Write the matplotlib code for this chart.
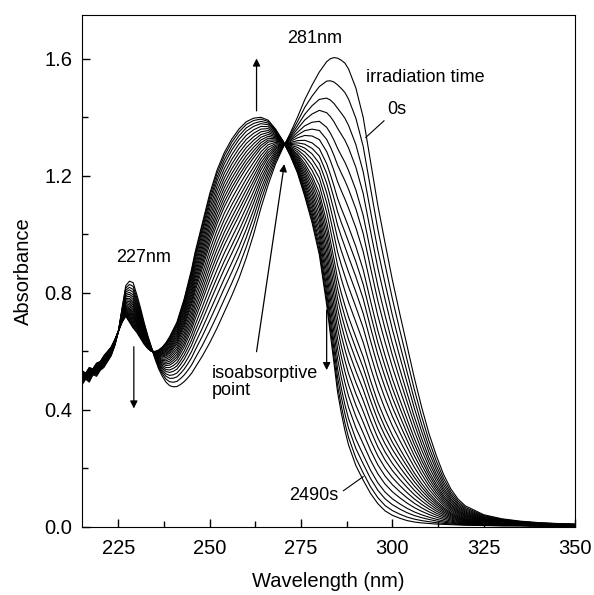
import numpy as np
import matplotlib
matplotlib.use("Agg")
import matplotlib.pyplot as plt

plt.rcParams['font.family'] = ['Liberation Sans', 'DejaVu Sans']

# wavelength grid (nm)
wl = [215, 216, 217, 218, 219, 220, 221, 222, 223, 224, 225, 226, 227, 228, 229,
      230, 231, 232, 233, 234, 235, 236, 237, 238, 239, 240, 241, 242, 243, 244,
      245, 246, 248, 250, 252, 254, 256, 258, 260, 262, 264, 266, 268, 270, 272,
      274, 276, 278, 280, 282, 283, 284, 285, 286, 287, 288, 290, 292, 294, 296,
      298, 300, 302, 304, 306, 308, 310, 312, 314, 316, 318, 320, 325, 330, 335,
      340, 345, 350]

# spectrum at 0 s
abs_0s = [0.485, 0.505, 0.495, 0.52, 0.515, 0.535, 0.545, 0.565, 0.585, 0.62, 0.67, 0.75,
          0.825, 0.84, 0.835, 0.795, 0.75, 0.70, 0.655, 0.615, 0.575, 0.54, 0.515, 0.495,
          0.483, 0.479, 0.48, 0.487, 0.497, 0.51, 0.525, 0.545, 0.585, 0.63, 0.68,
          0.735, 0.79, 0.85, 0.92, 1.00, 1.09, 1.17, 1.24, 1.295, 1.345, 1.40, 1.46,
          1.51, 1.555, 1.59, 1.600, 1.604, 1.602, 1.595, 1.585, 1.565, 1.50, 1.40,
          1.25, 1.10, 0.97, 0.844, 0.73, 0.62, 0.51, 0.41, 0.32, 0.245, 0.18, 0.13,
          0.095, 0.072, 0.042, 0.028, 0.02, 0.015, 0.012, 0.01]

# spectrum at 2490 s
abs_2490s = [0.535, 0.525, 0.545, 0.54, 0.56, 0.565, 0.585, 0.60, 0.615, 0.64, 0.67, 0.70,
             0.72, 0.70, 0.68, 0.665, 0.645, 0.625, 0.61, 0.60, 0.60, 0.605, 0.615, 0.63,
             0.65, 0.675, 0.70, 0.74, 0.78, 0.83, 0.88, 0.94, 1.04, 1.14, 1.22, 1.28,
             1.325, 1.36, 1.385, 1.397, 1.40, 1.39, 1.36, 1.32, 1.27, 1.21, 1.13, 1.04,
             0.93, 0.76, 0.66, 0.56, 0.46, 0.39, 0.33, 0.28, 0.21, 0.16, 0.115, 0.08,
             0.055, 0.04, 0.03, 0.022, 0.017, 0.014, 0.012, 0.01, 0.009, 0.008, 0.007,
             0.006, 0.005, 0.004, 0.004, 0.003, 0.003, 0.003]

# fraction converted for each recorded spectrum (0 s ... 2490 s)
converted = [0.0, 0.08, 0.15, 0.21, 0.27, 0.32, 0.37, 0.42, 0.46, 0.50, 0.54, 0.58,
             0.62, 0.66, 0.69, 0.72, 0.75, 0.78, 0.81, 0.84, 0.87, 0.90, 0.93, 0.955,
             0.98, 1.0]

wl = np.array(wl)
a0 = np.array(abs_0s)
a1 = np.array(abs_2490s)

fig = plt.figure(figsize=(5.94, 5.95), dpi=100)
ax = fig.add_axes([0.138, 0.1143, 0.830, 0.8607])

for f in converted:
    ax.plot(wl, (1 - f) * a0 + f * a1, color='black', lw=0.8)

ax.set_xlim(215, 350)
ax.set_ylim(0, 1.75)
ax.set_xticks([225, 250, 275, 300, 325, 350])
ax.set_xticks(np.arange(225, 350, 12.5), minor=True)
ax.set_yticks([0.0, 0.4, 0.8, 1.2, 1.6])
ax.set_yticks([0.2, 0.6, 1.0, 1.4], minor=True)
ax.set_yticklabels(['0.0', '0.4', '0.8', '1.2', '1.6'])
ax.tick_params(direction='in', length=6, width=1, labelsize=14.5)
ax.tick_params(axis='x', pad=9)
ax.tick_params(axis='y', pad=7)
ax.tick_params(which='minor', direction='in', length=4, width=1)
ax.set_xlabel('Wavelength (nm)', fontsize=14.5, labelpad=10)
ax.set_ylabel('Absorbance', fontsize=14.5, labelpad=8)

fs = 13
ax.text(278.8, 1.670, '281nm', ha='center', va='center', fontsize=fs)
ax.text(292.7, 1.537, 'irradiation time', ha='left', va='center', fontsize=fs)
ax.text(301.2, 1.428, '0s', ha='center', va='center', fontsize=fs)
ax.plot([297.7, 292.7], [1.388, 1.331], color='black', lw=0.8)
ax.text(232.0, 0.922, '227nm', ha='center', va='center', fontsize=fs)
ax.text(250.6, 0.555, 'isoabsorptive\npoint', ha='left', va='top', fontsize=fs,
        linespacing=1.0)
ax.text(278.5, 0.106, '2490s', ha='center', va='center', fontsize=fs)
ax.plot([286.6, 292.0], [0.124, 0.172], color='black', lw=0.8)

arrow = dict(arrowstyle='-|>', color='black', lw=0.9, mutation_scale=11,
             shrinkA=0, shrinkB=0)
ax.annotate('', xy=(262.8, 1.601), xytext=(262.8, 1.422), arrowprops=arrow)
ax.annotate('', xy=(229.2, 0.405), xytext=(229.2, 0.616), arrowprops=arrow)
ax.annotate('', xy=(282.0, 0.536), xytext=(282.0, 0.741), arrowprops=arrow)
ax.annotate('', xy=(270.4, 1.240), xytext=(262.8, 0.599), arrowprops=arrow)

fig.savefig('out.png', dpi=100)
